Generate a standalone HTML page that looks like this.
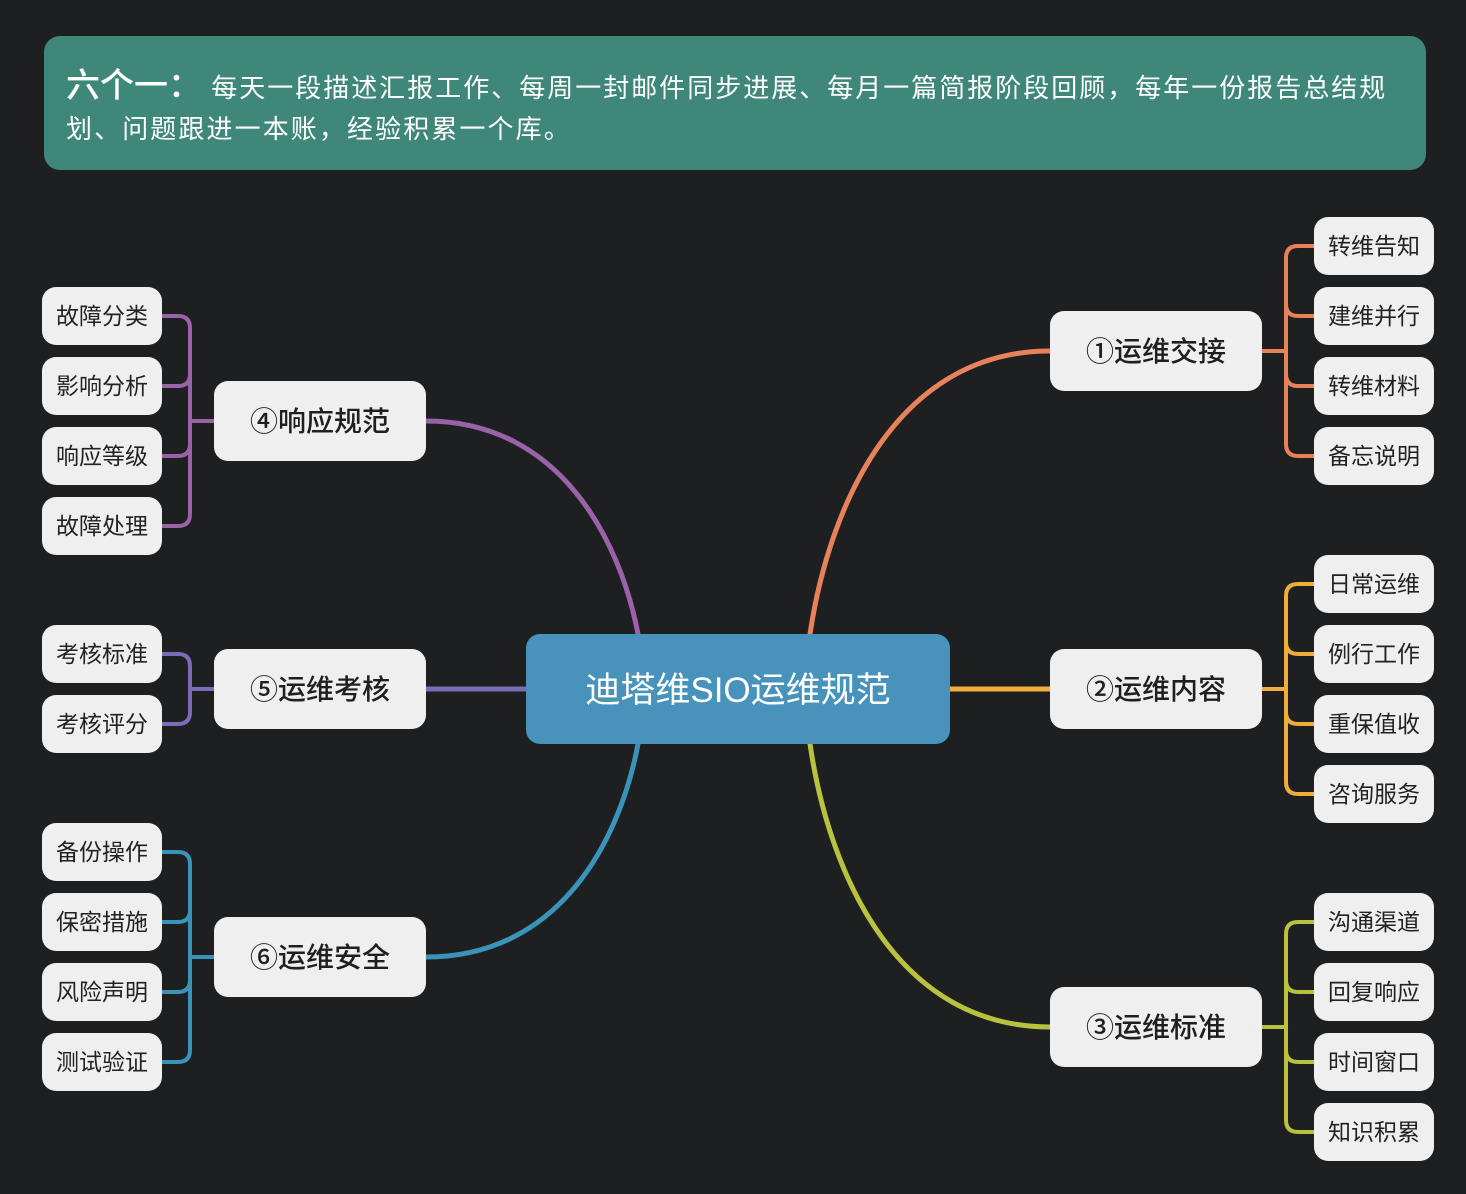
<!DOCTYPE html>
<html><head><meta charset="utf-8"><style>
html,body{margin:0;padding:0;background:#1e1f21;}
svg{display:block;}
text{font-family:"Liberation Sans","Noto Sans CJK SC",sans-serif;}
</style></head><body>
<svg width="1466" height="1194" viewBox="0 0 1466 1194" xmlns="http://www.w3.org/2000/svg">
<rect width="1466" height="1194" fill="#1e1f21"/>
<rect x="44" y="36" width="1382" height="134" rx="16" fill="#3f8879"/>
<text x="66" y="97" fill="#fff" font-size="26" letter-spacing="2"><tspan font-size="34" font-weight="500" letter-spacing="0">六个一：</tspan> 每天一段描述汇报工作、每周一封邮件同步进展、每月一篇简报阶段回顾，每年一份报告总结规</text>
<text x="66" y="138" fill="#fff" font-size="26" letter-spacing="2.1">划、问题跟进一本账，经验积累一个库。</text>

<g fill="none" stroke-width="5" stroke-linecap="round">
<path d="M810,634 C830,500 900,351 1050,351" stroke="#e8825a"/>
<path d="M950,689 H1050" stroke="#f0ad3c"/>
<path d="M810,744 C830,880 900,1027 1050,1027" stroke="#b8c23e"/>
<path d="M638,634 C620,540 560,421 426,421" stroke="#9a63a8"/>
<path d="M426,689 H526" stroke="#7b6cb8"/>
<path d="M638,744 C620,840 560,957 426,957" stroke="#3a93b8"/>
<g stroke-width="4">
<path d="M1262,351 H1286 M1314,246 H1298 Q1286,246 1286,258 V444 Q1286,456 1298,456 H1314 M1286,304 Q1286,316 1298,316 H1314 M1286,374 Q1286,386 1298,386 H1314" stroke="#e8825a"/>
<path d="M1262,689 H1286 M1314,584 H1298 Q1286,584 1286,596 V782 Q1286,794 1298,794 H1314 M1286,642 Q1286,654 1298,654 H1314 M1286,712 Q1286,724 1298,724 H1314" stroke="#f0ad3c"/>
<path d="M1262,1027 H1286 M1314,922 H1298 Q1286,922 1286,934 V1120 Q1286,1132 1298,1132 H1314 M1286,980 Q1286,992 1298,992 H1314 M1286,1050 Q1286,1062 1298,1062 H1314" stroke="#b8c23e"/>
<path d="M214,421 H190 M162,316 H178 Q190,316 190,328 V514 Q190,526 178,526 H162 M190,374 Q190,386 178,386 H162 M190,444 Q190,456 178,456 H162" stroke="#9a63a8"/>
<path d="M214,689 H190 M162,654 H178 Q190,654 190,666 V712 Q190,724 178,724 H162" stroke="#7b6cb8"/>
<path d="M214,957 H190 M162,852 H178 Q190,852 190,864 V1050 Q190,1062 178,1062 H162 M190,910 Q190,922 178,922 H162 M190,980 Q190,992 178,992 H162" stroke="#3a93b8"/>
</g>
</g>

<rect x="526" y="634" width="424" height="110" rx="14" fill="#4793bb"/>
<text x="738" y="702" fill="#fff" font-size="35" text-anchor="middle">迪塔维SIO运维规范</text>

<g fill="#efefef">
<rect x="1050" y="311" width="212" height="80" rx="14"/>
<rect x="1050" y="649" width="212" height="80" rx="14"/>
<rect x="1050" y="987" width="212" height="80" rx="14"/>
<rect x="214" y="381" width="212" height="80" rx="14"/>
<rect x="214" y="649" width="212" height="80" rx="14"/>
<rect x="214" y="917" width="212" height="80" rx="14"/>
<rect x="1314" y="217" width="120" height="58" rx="14"/><rect x="1314" y="287" width="120" height="58" rx="14"/><rect x="1314" y="357" width="120" height="58" rx="14"/><rect x="1314" y="427" width="120" height="58" rx="14"/>
<rect x="1314" y="555" width="120" height="58" rx="14"/><rect x="1314" y="625" width="120" height="58" rx="14"/><rect x="1314" y="695" width="120" height="58" rx="14"/><rect x="1314" y="765" width="120" height="58" rx="14"/>
<rect x="1314" y="893" width="120" height="58" rx="14"/><rect x="1314" y="963" width="120" height="58" rx="14"/><rect x="1314" y="1033" width="120" height="58" rx="14"/><rect x="1314" y="1103" width="120" height="58" rx="14"/>
<rect x="42" y="287" width="120" height="58" rx="14"/><rect x="42" y="357" width="120" height="58" rx="14"/><rect x="42" y="427" width="120" height="58" rx="14"/><rect x="42" y="497" width="120" height="58" rx="14"/>
<rect x="42" y="625" width="120" height="58" rx="14"/><rect x="42" y="695" width="120" height="58" rx="14"/>
<rect x="42" y="823" width="120" height="58" rx="14"/><rect x="42" y="893" width="120" height="58" rx="14"/><rect x="42" y="963" width="120" height="58" rx="14"/><rect x="42" y="1033" width="120" height="58" rx="14"/>
</g>

<g fill="#1e1f21" font-size="28" font-weight="500" text-anchor="middle">
<text x="1156" y="361">①运维交接</text>
<text x="1156" y="699">②运维内容</text>
<text x="1156" y="1037">③运维标准</text>
<text x="320" y="431">④响应规范</text>
<text x="320" y="699">⑤运维考核</text>
<text x="320" y="967">⑥运维安全</text>
</g>
<g fill="#222" font-size="23" text-anchor="middle">
<text x="1374" y="254">转维告知</text><text x="1374" y="324">建维并行</text><text x="1374" y="394">转维材料</text><text x="1374" y="464">备忘说明</text>
<text x="1374" y="592">日常运维</text><text x="1374" y="662">例行工作</text><text x="1374" y="732">重保值收</text><text x="1374" y="802">咨询服务</text>
<text x="1374" y="930">沟通渠道</text><text x="1374" y="1000">回复响应</text><text x="1374" y="1070">时间窗口</text><text x="1374" y="1140">知识积累</text>
<text x="102" y="324">故障分类</text><text x="102" y="394">影响分析</text><text x="102" y="464">响应等级</text><text x="102" y="534">故障处理</text>
<text x="102" y="662">考核标准</text><text x="102" y="732">考核评分</text>
<text x="102" y="860">备份操作</text><text x="102" y="930">保密措施</text><text x="102" y="1000">风险声明</text><text x="102" y="1070">测试验证</text>
</g>
</svg>
</body></html>
